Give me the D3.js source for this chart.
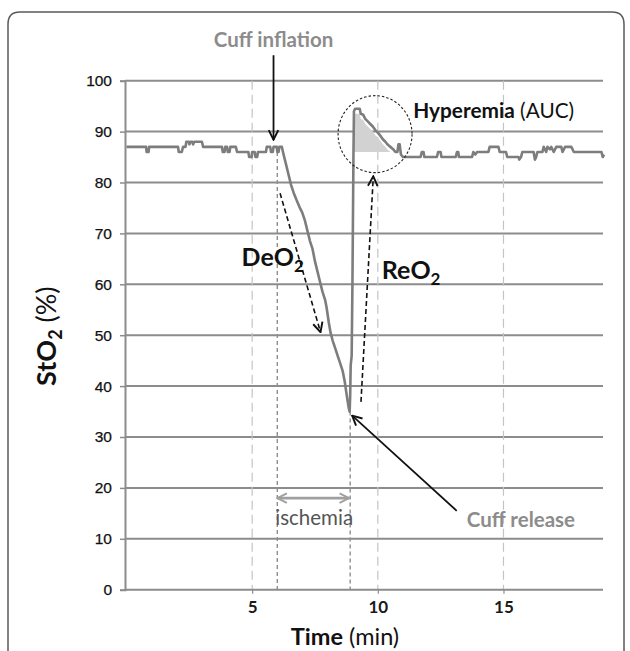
<!DOCTYPE html>
<html>
<head>
<meta charset="utf-8">
<script src="https://cdn.jsdelivr.net/npm/d3@7"></script>
<style>
  html, body { margin: 0; padding: 0; background: #fff; }
  svg { display: block; }
</style>
</head>
<body>
<svg id="chart" width="630" height="651"></svg>
<script>
// ---------------- data ----------------
const time = [
  0, 0.78, 0.8, 0.88, 0.9, 2.05, 2.08, 2.2, 2.25, 2.35, 2.38, 2.48, 2.5, 2.55, 2.62, 2.65, 2.7, 3.0, 3.05,
  3.8, 3.83, 3.9, 3.93, 4.0, 4.03, 4.1, 4.13, 4.35, 4.4, 4.85, 4.88, 4.98, 5.0, 5.1, 5.13, 5.2, 5.23,
  5.55, 5.58, 5.72, 5.75, 5.82, 5.85, 5.98, 6.0, 6.05, 6.08, 6.18,
  6.25, 6.35, 6.45, 6.55, 6.65, 6.77, 6.9, 7.0, 7.1, 7.2, 7.3, 7.4, 7.5, 7.6, 7.7, 7.8, 7.9, 7.96,
  8.05, 8.12, 8.2, 8.3, 8.4, 8.5, 8.6, 8.68, 8.74, 8.8, 8.85, 8.88,
  8.9, 8.92, 8.96, 8.99, 9.03, 9.05, 9.1, 9.28, 9.32, 9.42, 9.5, 9.6, 9.7, 9.8, 9.9, 10.0, 10.1, 10.2,
  10.3, 10.4, 10.5, 10.6, 10.7, 10.78, 10.82, 10.87, 10.92, 11.0,
  11.7, 11.75, 11.82, 11.85, 12.35, 12.4, 12.5, 12.53, 13.1, 13.15, 13.2, 13.23, 13.75, 13.8, 13.88,
  13.95, 14.05, 14.4, 14.45, 14.8, 14.85, 15.1, 15.15, 15.6, 15.63, 15.7, 15.75, 16.2, 16.25, 16.3,
  16.35, 16.55, 16.6, 16.7, 16.75, 16.85, 16.9, 17.0, 17.1, 17.3, 17.35, 17.45, 17.7, 17.8, 18.9, 18.95, 19
];
const sto2 = [
  87, 87, 86, 86, 87, 87, 86, 86, 87, 87, 88, 88, 87.5, 88, 88, 87.5, 88, 88, 87,
  87, 86, 86, 87, 87, 86, 86, 87, 87, 86, 86, 85, 85, 86, 86, 85, 85, 86,
  86, 87, 87, 86, 86, 87, 87, 86, 86, 87, 87,
  85.5, 83.5, 81.5, 79.5, 78, 76.5, 75, 74, 72.5, 70.5, 68.5, 67, 64.5, 62.5, 60.5, 58.5, 57, 55.5,
  52.5, 50.5, 49, 47.5, 46, 44.5, 43, 41, 39, 37, 35.5, 35,
  38, 44, 46, 60, 85, 94, 94.5, 94.5, 93.5, 93.3, 92.5, 92, 91.5, 91, 90.3, 89.8, 89.2, 88.5,
  88, 87.4, 87, 86.6, 86, 86, 87.5, 87.5, 85.5, 85,
  85, 86, 86, 85, 85, 86, 86, 85, 85, 86, 86, 85, 85, 86, 85.5,
  86, 86, 86, 87, 87, 86, 86, 85, 85, 84.5, 85, 86, 86, 84.5, 85,
  86, 86, 87, 86, 87, 86.5, 87, 86, 87, 87, 86, 87, 87, 86, 86, 85, 85.5
];
const yTicks = [0, 10, 20, 30, 40, 50, 60, 70, 80, 90, 100];
const xTicks = [5, 10, 15];
const eventTimes = [6, 8.9];          // cuff inflation, cuff release
const eventStartValues = [86, 35];    // where the dashed event lines begin
const hyperemiaWindow = [9.03, 10.8];
const hyperemiaBase = 86;

// ---------------- layout ----------------
const svg = d3.select("#chart");
const x = d3.scaleLinear().domain([0, 19]).range([126.5, 604]);
const y = d3.scaleLinear().domain([0, 100]).range([589.7, 80.7]);
const gridColor = "#8c8c8c";
const annoGray = "#8c8c8c";
const sans = "Lato, 'Open Sans', sans-serif";

// frame
svg.append("path")
  .attr("d", "M8,700 L8,24 Q8,12 20,12 L612,12 Q624,12 624,24 L624,700")
  .attr("fill", "none").attr("stroke", "#5a5a5a").attr("stroke-width", 1.5);

// markers
const defs = svg.append("defs");
function marker(id, color, size) {
  defs.append("marker")
    .attr("id", id).attr("viewBox", "0 0 10 10").attr("refX", 9).attr("refY", 5)
    .attr("markerUnits", "userSpaceOnUse")
    .attr("markerWidth", size).attr("markerHeight", size)
    .attr("orient", "auto-start-reverse")
    .append("path").attr("d", "M1,1 L9,5 L1,9")
    .attr("fill", "none").attr("stroke", color).attr("stroke-width", 1.6)
    .attr("stroke-linejoin", "miter");
}
marker("arrBlack", "#111", 12);
marker("arrGray", "#a0a0a0", 12);

// horizontal gridlines
svg.append("g").selectAll("line").data(yTicks.filter(d => d > 0)).join("line")
  .attr("x1", x(0) - 1.5).attr("x2", x(19) - 1)
  .attr("y1", d => y(d)).attr("y2", d => y(d))
  .attr("stroke", gridColor).attr("stroke-width", 2);

// vertical light dashed lines at ticks
svg.append("g").selectAll("line").data(xTicks).join("line")
  .attr("x1", d => x(d)).attr("x2", d => x(d))
  .attr("y1", y(100)).attr("y2", y(0))
  .attr("stroke", "#c4c4c4").attr("stroke-width", 1.2)
  .attr("stroke-dasharray", "9,5");

// event dashed lines
svg.append("g").selectAll("line").data(eventTimes).join("line")
  .attr("x1", d => x(d)).attr("x2", d => x(d))
  .attr("y1", (d, i) => y(eventStartValues[i])).attr("y2", y(0))
  .attr("stroke", "#8f8f8f").attr("stroke-width", 1.4)
  .attr("stroke-dasharray", "4,3");

// y axis
const yAxis = svg.append("g").attr("transform", `translate(${x(0) - 1.5},0)`)
  .call(d3.axisLeft(y).tickValues(yTicks).tickSize(5).tickPadding(8).tickFormat(d3.format("d")));
yAxis.select(".domain").attr("stroke", gridColor).attr("stroke-width", 2);
yAxis.selectAll(".tick line").attr("stroke", gridColor).attr("stroke-width", 1.5);
yAxis.selectAll(".tick text").attr("font-family", "'Liberation Sans', Arial, sans-serif")
  .attr("font-size", 15.5).attr("fill", "#111").attr("stroke", "#111").attr("stroke-width", 0.25);

// x axis
const xAxis = svg.append("g").attr("transform", `translate(0,${y(0)})`)
  .call(d3.axisBottom(x).tickValues(xTicks).tickSize(4).tickPadding(7).tickSizeOuter(0));
xAxis.select(".domain").attr("d", `M${x(0) - 1.5},0H${x(19) - 1}`)
  .attr("stroke", gridColor).attr("stroke-width", 2);
xAxis.selectAll(".tick line").attr("stroke", gridColor).attr("stroke-width", 1.2);
xAxis.selectAll(".tick text").attr("font-family", sans).attr("font-weight", "bold")
  .attr("font-size", 17).attr("fill", "#1a1a1a");

// hyperemia area
const pts = time.map((t, i) => ({ t, v: sto2[i] }));
const hyp = pts.filter(d => d.t >= hyperemiaWindow[0] && d.t <= hyperemiaWindow[1]);
svg.append("path").datum(hyp)
  .attr("d", d3.area().x(d => x(d.t)).y0(y(hyperemiaBase)).y1(d => y(Math.max(hyperemiaBase, d.v - 1))))
  .attr("fill", "#d2d2d2");

// data line
svg.append("path").datum(pts)
  .attr("d", d3.line().x(d => x(d.t)).y(d => y(d.v)))
  .attr("fill", "none").attr("stroke", "#7d7d7d").attr("stroke-width", 2.6)
  .attr("stroke-linejoin", "round");

// ---------------- annotations (data units) ----------------
function arrow(t1, v1, t2, v2, opts) {
  svg.append("line")
    .attr("x1", x(t1)).attr("y1", y(v1)).attr("x2", x(t2)).attr("y2", y(v2))
    .attr("stroke", opts.color).attr("stroke-width", opts.width)
    .attr("stroke-dasharray", opts.dash || null)
    .attr("marker-end", `url(#${opts.marker})`)
    .attr("marker-start", opts.both ? `url(#${opts.marker})` : null);
}
// cuff inflation
arrow(5.85, 105.0, 5.85, 88.4, { color: "#111", width: 1.8, marker: "arrBlack" });
svg.append("text").attr("x", x(5.85)).attr("y", y(106.6)).attr("text-anchor", "middle")
  .attr("font-family", sans).attr("font-weight", "bold").attr("font-size", 20.5)
  .attr("fill", annoGray).text("Cuff inflation");

// DeO2 dashed arrow
arrow(6.11, 77.9, 7.72, 50.6, { color: "#111", width: 1.6, dash: "5,3", marker: "arrBlack" });
// ReO2 dashed arrow
arrow(9.33, 36.9, 9.82, 81.2, { color: "#111", width: 1.6, dash: "5,3", marker: "arrBlack" });
// cuff release
arrow(13.14, 15.5, 8.98, 34.2, { color: "#111", width: 1.8, marker: "arrBlack" });
svg.append("text").attr("x", x(13.54)).attr("y", y(12.3))
  .attr("font-family", sans).attr("font-weight", "bold").attr("font-size", 20.5)
  .attr("fill", annoGray).text("Cuff release");

// ischemia
arrow(6.0, 18, 8.86, 18, { color: "#a0a0a0", width: 2.6, marker: "arrGray", both: true });
svg.append("text").attr("x", x(5.92)).attr("y", y(12.7))
  .attr("font-family", sans).attr("font-size", 20.5)
  .attr("fill", "#555").text("ischemia");

// DeO2 label
const de = svg.append("text").attr("x", x(4.58)).attr("y", y(63.5))
  .attr("font-family", sans).attr("font-weight", "bold").attr("font-size", 25).attr("fill", "#111");
de.append("tspan").text("DeO");
de.append("tspan").attr("dy", 6).attr("font-size", 17).text("2");

// ReO2 label
const re = svg.append("text").attr("x", x(10.16)).attr("y", y(61))
  .attr("font-family", sans).attr("font-weight", "bold").attr("font-size", 25).attr("fill", "#111");
re.append("tspan").text("ReO");
re.append("tspan").attr("dy", 6).attr("font-size", 17).text("2");

// hyperemia circle + label
svg.append("ellipse").attr("cx", x(9.89)).attr("cy", y(89.5))
  .attr("rx", 37).attr("ry", 38.5)
  .attr("fill", "none").attr("stroke", "#222").attr("stroke-width", 1.1)
  .attr("stroke-dasharray", "2.5,2");
const hy = svg.append("text").attr("x", x(11.41)).attr("y", y(92.6))
  .attr("font-family", sans).attr("font-size", 20.8).attr("fill", "#111");
hy.append("tspan").attr("font-weight", "bold").text("Hyperemia");
hy.append("tspan").text(" (AUC)");

// axis titles
const yl = svg.append("text")
  .attr("transform", `translate(56,${(y(0) + y(100)) / 2 + 1}) rotate(-90)`)
  .attr("text-anchor", "middle")
  .attr("font-family", sans).attr("font-size", 27).attr("fill", "#111");
yl.append("tspan").attr("font-weight", "bold").text("StO");
yl.append("tspan").attr("font-weight", "bold").attr("font-size", 18).attr("dy", 6).text("2");
yl.append("tspan").attr("dy", -6).text(" (%)");

const xl = svg.append("text").attr("x", 345).attr("y", 645).attr("text-anchor", "middle")
  .attr("font-family", sans).attr("font-size", 23.5).attr("fill", "#111");
xl.append("tspan").attr("font-weight", "bold").text("Time");
xl.append("tspan").text(" (min)");
</script>
</body>
</html>
